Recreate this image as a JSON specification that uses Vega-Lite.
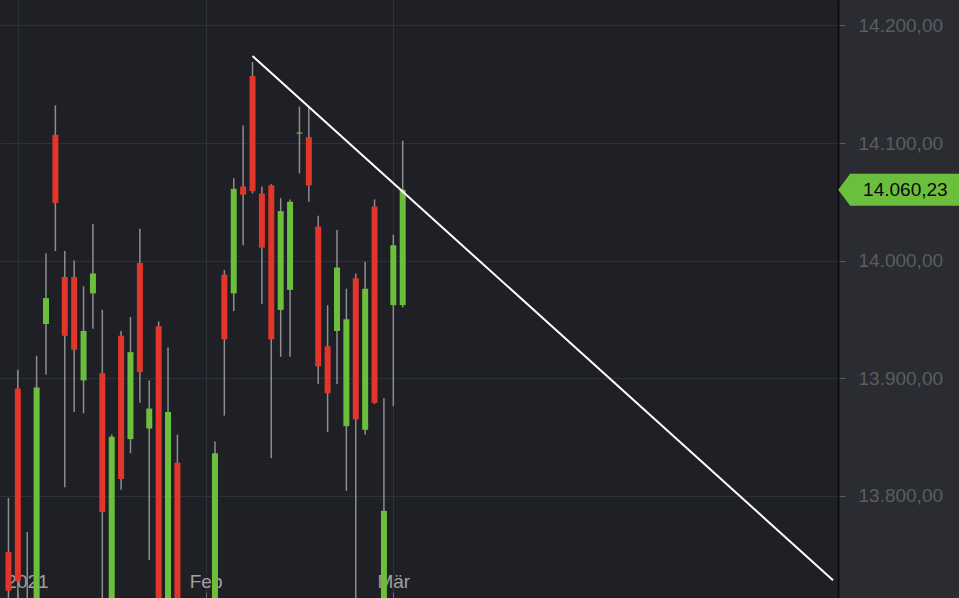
{
  "$schema": "https://vega.github.io/schema/vega-lite/v6.json",
  "width": 838,
  "height": 598,
  "autosize": {"type": "none"},
  "padding": {"left": 0, "top": 0, "right": 121, "bottom": 0},
  "background": "#2a2c31",
  "config": {
    "view": {"fill": "#1e2025", "stroke": null},
    "locale": {"number": {"decimal": ",", "thousands": ".", "grouping": [3], "currency": ["", " €"]}},
    "font": "Liberation Sans"
  },
  "datasets": {
    "candles": [
      {"d": "2020-12-30", "i": -1, "o": 13752, "h": 13798, "l": 13690, "c": 13719},
      {"d": "2021-01-04", "i": 0, "o": 13891, "h": 13907, "l": 13600, "c": 13727},
      {"d": "2021-01-05", "i": 1, "o": 13640, "h": 13769, "l": 13597, "c": 13651},
      {"d": "2021-01-06", "i": 2, "o": 13650, "h": 13919, "l": 13600, "c": 13892},
      {"d": "2021-01-07", "i": 3, "o": 13946, "h": 14006, "l": 13903, "c": 13968},
      {"d": "2021-01-08", "i": 4, "o": 14107, "h": 14132, "l": 14008, "c": 14049},
      {"d": "2021-01-11", "i": 5, "o": 13986, "h": 14008, "l": 13807, "c": 13936},
      {"d": "2021-01-12", "i": 6, "o": 13986, "h": 14000, "l": 13871, "c": 13924},
      {"d": "2021-01-13", "i": 7, "o": 13898, "h": 13978, "l": 13870, "c": 13940},
      {"d": "2021-01-14", "i": 8, "o": 13972, "h": 14031, "l": 13942, "c": 13989},
      {"d": "2021-01-15", "i": 9, "o": 13904, "h": 13958, "l": 13700, "c": 13786},
      {"d": "2021-01-18", "i": 10, "o": 13700, "h": 13852, "l": 13690, "c": 13850},
      {"d": "2021-01-19", "i": 11, "o": 13936, "h": 13940, "l": 13805, "c": 13814},
      {"d": "2021-01-20", "i": 12, "o": 13848, "h": 13952, "l": 13836, "c": 13922},
      {"d": "2021-01-21", "i": 13, "o": 13998, "h": 14027, "l": 13879, "c": 13905},
      {"d": "2021-01-22", "i": 14, "o": 13857, "h": 13898, "l": 13745, "c": 13874},
      {"d": "2021-01-25", "i": 15, "o": 13944, "h": 13948, "l": 13600, "c": 13644},
      {"d": "2021-01-26", "i": 16, "o": 13640, "h": 13926, "l": 13600, "c": 13871},
      {"d": "2021-01-27", "i": 17, "o": 13828, "h": 13852, "l": 13580, "c": 13620},
      {"d": "2021-01-28", "i": 18, "o": 13560, "h": 13700, "l": 13430, "c": 13666},
      {"d": "2021-01-29", "i": 19, "o": 13640, "h": 13690, "l": 13400, "c": 13433},
      {"d": "2021-02-01", "i": 20, "o": 13450, "h": 13705, "l": 13420, "c": 13622},
      {"d": "2021-02-02", "i": 21, "o": 13660, "h": 13846, "l": 13650, "c": 13836},
      {"d": "2021-02-03", "i": 22, "o": 13988, "h": 13992, "l": 13868, "c": 13933},
      {"d": "2021-02-04", "i": 23, "o": 13972, "h": 14070, "l": 13957, "c": 14061},
      {"d": "2021-02-05", "i": 24, "o": 14063, "h": 14115, "l": 14013, "c": 14056},
      {"d": "2021-02-08", "i": 25, "o": 14157, "h": 14169, "l": 14057, "c": 14059},
      {"d": "2021-02-09", "i": 26, "o": 14057, "h": 14063, "l": 13963, "c": 14011},
      {"d": "2021-02-10", "i": 27, "o": 14064, "h": 14065, "l": 13832, "c": 13933},
      {"d": "2021-02-11", "i": 28, "o": 13958, "h": 14053, "l": 13918, "c": 14042},
      {"d": "2021-02-12", "i": 29, "o": 13975, "h": 14052, "l": 13918, "c": 14050},
      {"d": "2021-02-15", "i": 30, "o": 14108, "h": 14131, "l": 14074, "c": 14109},
      {"d": "2021-02-16", "i": 31, "o": 14105, "h": 14130, "l": 14050, "c": 14064},
      {"d": "2021-02-17", "i": 32, "o": 14029, "h": 14038, "l": 13895, "c": 13910},
      {"d": "2021-02-18", "i": 33, "o": 13927, "h": 13962, "l": 13854, "c": 13887},
      {"d": "2021-02-19", "i": 34, "o": 13940, "h": 14026, "l": 13895, "c": 13994},
      {"d": "2021-02-22", "i": 35, "o": 13859, "h": 13976, "l": 13804, "c": 13950},
      {"d": "2021-02-23", "i": 36, "o": 13985, "h": 13989, "l": 13600, "c": 13865},
      {"d": "2021-02-24", "i": 37, "o": 13856, "h": 13999, "l": 13852, "c": 13976},
      {"d": "2021-02-25", "i": 38, "o": 14046, "h": 14052, "l": 13878, "c": 13879},
      {"d": "2021-02-26", "i": 39, "o": 13700, "h": 13883, "l": 13620, "c": 13787},
      {"d": "2021-03-01", "i": 40, "o": 13962, "h": 14022, "l": 13876, "c": 14013},
      {"d": "2021-03-02", "i": 41, "o": 13962, "h": 14102, "l": 13960, "c": 14060.23}
    ],
    "trend": [
      {"i": 25, "v": 14174},
      {"i": 86.84, "v": 13728}
    ],
    "last": [{"price": 14060.23}]
  },
  "layer": [
    {
      "data": {"name": "candles"},
      "mark": {"type": "rule", "color": "#8e8e8e", "strokeWidth": 1.5, "clip": true},
      "encoding": {
        "x": {
          "field": "i", "type": "quantitative",
          "scale": {"domain": [-1.368, 86.84], "nice": false, "zero": false},
          "axis": {
            "title": null, "orient": "bottom", "values": [0, 20, 40],
            "labelExpr": "datum.value == 0 ? '2021' : datum.value == 20 ? 'Feb' : 'Mär'",
            "grid": true, "gridColor": "#2e3137", "gridWidth": 1,
            "domain": false, "ticks": true, "tickColor": "#707070", "tickSize": -6,
            "labelPadding": -5, "labelBaseline": "alphabetic",
            "labelColor": "#a0a0a0", "labelFontSize": 19, "labelFont": "Liberation Sans",
            "labelAlign": {"condition": {"test": "datum.value == 0", "value": "left"}, "value": "center"},
            "labelOffset": {"condition": {"test": "datum.value == 0", "value": -12}, "value": 0}
          }
        },
        "y": {
          "field": "l", "type": "quantitative",
          "scale": {"domain": [13712.8, 14221.7], "nice": false, "zero": false},
          "axis": {
            "title": null, "orient": "right", "values": [13800, 13900, 14000, 14100, 14200],
            "format": ",.2f", "grid": true, "gridColor": "#2e3137", "gridWidth": 1,
            "domain": true, "domainColor": "#0c0d0f", "domainWidth": 2,
            "tickColor": "#5a5d63", "tickSize": 7, "labelPadding": 13,
            "labelColor": "#5a5d63", "labelFontSize": 19, "labelFont": "Liberation Sans"
          }
        },
        "y2": {"field": "h"}
      }
    },
    {
      "data": {"name": "candles"},
      "mark": {"type": "bar", "width": 6, "clip": true},
      "encoding": {
        "x": {"field": "i", "type": "quantitative"},
        "y": {"field": "o", "type": "quantitative"},
        "y2": {"field": "c"},
        "color": {
          "condition": {"test": "datum.c >= datum.o", "value": "#6cbf3c"},
          "value": "#e2352b"
        }
      }
    },
    {
      "data": {"name": "trend"},
      "mark": {"type": "line", "color": "#ffffff", "strokeWidth": 2, "clip": true},
      "encoding": {
        "x": {"field": "i", "type": "quantitative"},
        "y": {"field": "v", "type": "quantitative"}
      }
    },
    {
      "data": {"name": "last"},
      "mark": {
        "type": "point", "filled": true, "opacity": 1, "color": "#6cbf3c", "size": 15625,
        "shape": "M -1 0 L -0.808 -0.256 L 1 -0.256 L 1 0.256 L -0.808 0.256 Z"
      },
      "encoding": {
        "x": {"datum": 94.05, "type": "quantitative"},
        "y": {"field": "price", "type": "quantitative"}
      }
    },
    {
      "data": {"name": "last"},
      "mark": {"type": "text", "color": "#0a0a0a", "font": "Liberation Sans", "fontSize": 19, "align": "right", "baseline": "middle"},
      "encoding": {
        "x": {"datum": 99.05, "type": "quantitative"},
        "y": {"field": "price", "type": "quantitative"},
        "text": {"field": "price", "type": "quantitative", "format": ",.2f"}
      }
    }
  ]
}
